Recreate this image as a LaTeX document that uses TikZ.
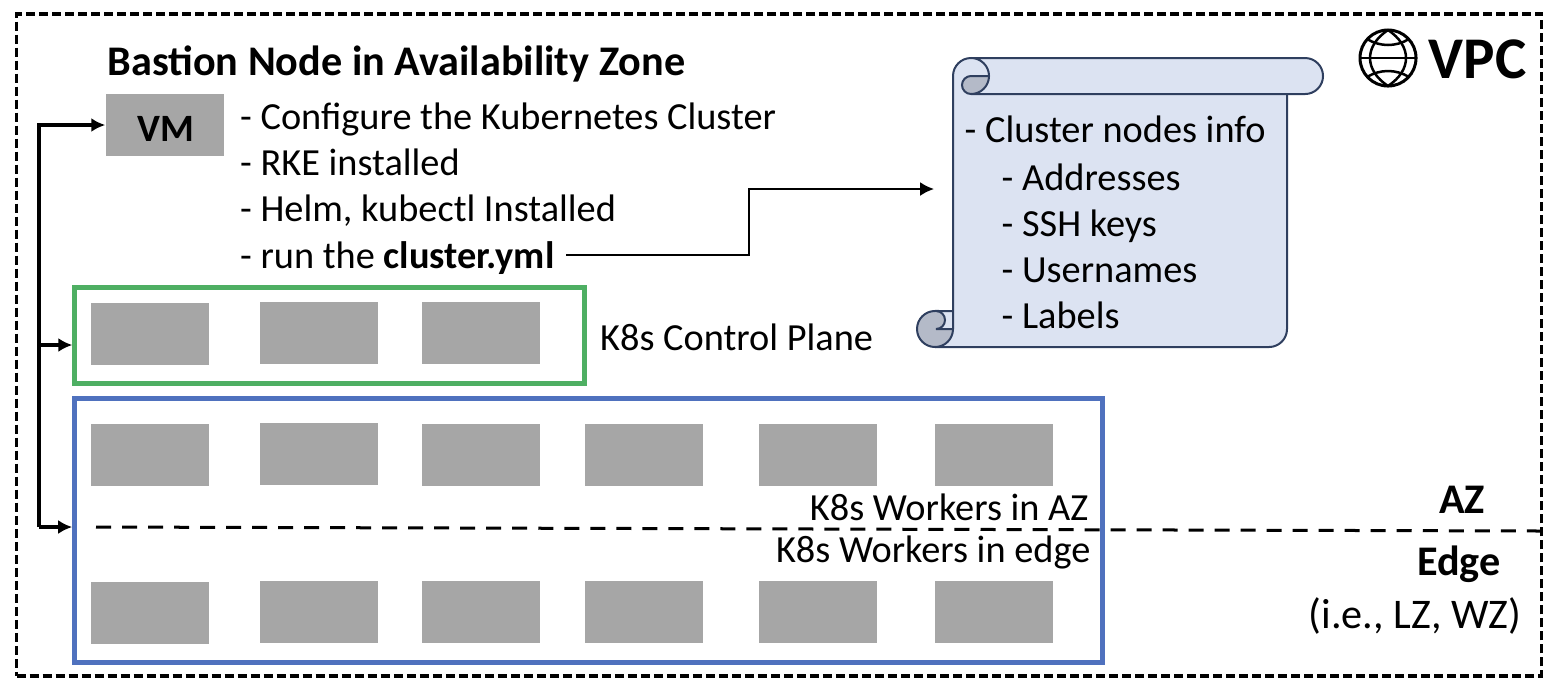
\documentclass[tikz,border=0pt]{standalone}
\usepackage{fontspec}
\setmainfont{Carlito}
\usepackage{tikz}
\usetikzlibrary{arrows.meta,calc,positioning}

\definecolor{vmgray}{HTML}{A6A6A6}
\definecolor{ctrlgreen}{HTML}{4EAF63}
\definecolor{workblue}{HTML}{4F71BE}
\definecolor{scrollfill}{HTML}{DCE3F2}
\definecolor{scrollline}{HTML}{2F3F5F}
\definecolor{scrollcurl}{HTML}{B4BAC8}

\begin{document}
\begin{tikzpicture}[
    x=0.01cm,
    y=0.01cm,
    >={Latex[length=0.14cm,width=0.14cm]},
    vmbox/.style={fill=vmgray, minimum width=1.18cm, minimum height=0.62cm, inner sep=0pt},
    group/.style={draw, line width=0.05cm, inner sep=0pt},
    txt/.style={font=\fontsize{10.9}{13.1}\selectfont, inner sep=0pt, align=left},
    bold/.style={font=\fontsize{12}{14}\selectfont\bfseries, inner sep=0pt},
    line/.style={->, line width=0.035cm},
    zone/.style={line width=0.035cm, dash pattern=on 0.09cm off 0.04cm},
    split/.style={line width=0.03cm, dash pattern=on 0.15cm off 0.11cm},
    scroll/.style={draw=scrollline, line width=0.02cm}
]
\useasboundingbox (0,0) rectangle (1558,-690);

% outer frame
\node[zone, draw, inner sep=0pt, minimum width=15.24cm, minimum height=6.62cm] (vpc) at (779,-345) {};

% scroll
\fill[scrollfill] (953,-76) arc[start angle=180,end angle=90,radius=0.18cm] -- (1305,-58)
    arc[start angle=90,end angle=-90,radius=0.18cm] -- (1287,-94) -- (1287,-329)
    arc[start angle=0,end angle=-90,radius=0.18cm] -- (935,-347)
    arc[start angle=270,end angle=90,radius=0.18cm] -- (953,-311) -- cycle;
\fill[scrollcurl] (989,-76) -- (971,-76) arc[start angle=90,end angle=270,radius=0.09cm]
    arc[start angle=-90,end angle=0,radius=0.18cm] -- cycle;
\fill[scrollcurl] (935,-311) arc[start angle=90,end angle=270,radius=0.18cm]
    arc[start angle=-90,end angle=0,radius=0.18cm] -- (936,-329)
    arc[start angle=-90,end angle=90,radius=0.09cm] -- cycle;
\draw[scroll] (953,-329) -- (953,-76) arc[start angle=180,end angle=90,radius=0.18cm] -- (1305,-58)
    arc[start angle=90,end angle=-90,radius=0.18cm] -- (971,-94)
    arc[start angle=-90,end angle=90,radius=0.18cm];
\draw[scroll] (989,-76) -- (971,-76) arc[start angle=90,end angle=270,radius=0.09cm];
\draw[scroll] (1287,-94) -- (1287,-329) arc[start angle=0,end angle=-90,radius=0.18cm] -- (935,-347)
    arc[start angle=270,end angle=90,radius=0.18cm] -- (953,-311);
\draw[scroll] (953,-329) arc[start angle=0,end angle=-90,radius=0.18cm];
\draw[scroll] (953,-329) -- (936,-329) arc[start angle=-90,end angle=90,radius=0.09cm];

% globe
\draw[line width=0.03cm] (1388,-58) circle[radius=0.28cm];
\draw[line width=0.025cm] (1388,-30) .. controls (1364,-46) and (1364,-70) .. (1388,-86);
\draw[line width=0.025cm] (1388,-30) .. controls (1412,-46) and (1412,-70) .. (1388,-86);
\draw[line width=0.025cm] (1360,-58) -- (1416,-58);
\draw[line width=0.025cm] (1367,-39) .. controls (1380,-47) and (1396,-47) .. (1409,-39);
\draw[line width=0.025cm] (1367,-77) .. controls (1380,-69) and (1396,-69) .. (1409,-77);

\node[font=\fontsize{16.8}{18}\selectfont\bfseries, inner sep=0pt, anchor=west] (vpclabel) at (1428,-59) {VPC};
\node[bold, anchor=west] (bastion) at (107,-64) {Bastion Node in Availability Zone};

\node[vmbox] (vm) at (165,-125) {};
\node[font=\fontsize{11}{13}\selectfont\bfseries, inner sep=0pt] (vmlabel) at (165.5,-129) {VM};
\node[txt, anchor=north west] (steps) at (239.5,-102.5) {- Configure the Kubernetes Cluster\\- RKE installed\\- Helm, kubectl Installed\\- run the \textbf{cluster.yml}};

\node[txt, anchor=west] (clusterinfo) at (964,-129) {- Cluster nodes info};
\node[txt, anchor=north west] (infolist) at (1001,-163) {- Addresses\\- SSH keys\\- Usernames\\- Labels};

% control plane
\node[group, draw=ctrlgreen, minimum width=5.09cm, minimum height=0.965cm] (ctrl) at (329.5,-335.5) {};
\node[vmbox] (c1) at (150,-334) {};
\node[vmbox] (c2) at (319,-333) {};
\node[vmbox] (c3) at (481,-333) {};
\node[txt, anchor=west] (ctrllabel) at (599.5,-337) {K8s Control Plane};

% workers
\node[group, draw=workblue, minimum width=10.27cm, minimum height=2.63cm] (workers) at (588.5,-530.5) {};
\node[vmbox] (w1) at (150,-455) {};
\node[vmbox] (w2) at (319,-454) {};
\node[vmbox] (w3) at (481,-455) {};
\node[vmbox] (w4) at (644,-455) {};
\node[vmbox] (w5) at (818,-455) {};
\node[vmbox] (w6) at (994,-455) {};
\node[vmbox] (e1) at (150,-613) {};
\node[vmbox] (e2) at (319,-612) {};
\node[vmbox] (e3) at (481,-612) {};
\node[vmbox] (e4) at (644,-612) {};
\node[vmbox] (e5) at (818,-612) {};
\node[vmbox] (e6) at (994,-612) {};
\node[txt, anchor=east] (azworkers) at (1089,-507) {K8s Workers in AZ};
\node[txt, anchor=east] (edgeworkers) at (1091,-552) {K8s Workers in edge};

\node[bold] (azlabel) at (1462,-500) {AZ};
\node[bold] (edgelabel) at (1459,-564) {Edge};
\node[txt, font=\fontsize{12}{14}\selectfont, anchor=east] (edgenote) at (1522,-616) {(i.e., LZ, WZ)};

\coordinate (splitleft) at (96,-527);
\coordinate (splitright) at (vpc.east |- 0,-531);
\draw[split] (splitleft) -- (splitright);

% bastion connections
\coordinate (busmid) at (39,-345);
\coordinate (busend) at (39,-527);
\coordinate (ymlout) at (566,-255);
\coordinate (infoin) at (934,-189);
\draw[line] (busend) |- (vm.west);
\draw[line] (busmid) -- (busmid -| ctrl.west);
\draw[line] (busend) -- (busend -| workers.west);
\draw[->, line width=0.02cm] (ymlout) -- (749,-255) -- (749,-189) -- (infoin);
\end{tikzpicture}
\end{document}
